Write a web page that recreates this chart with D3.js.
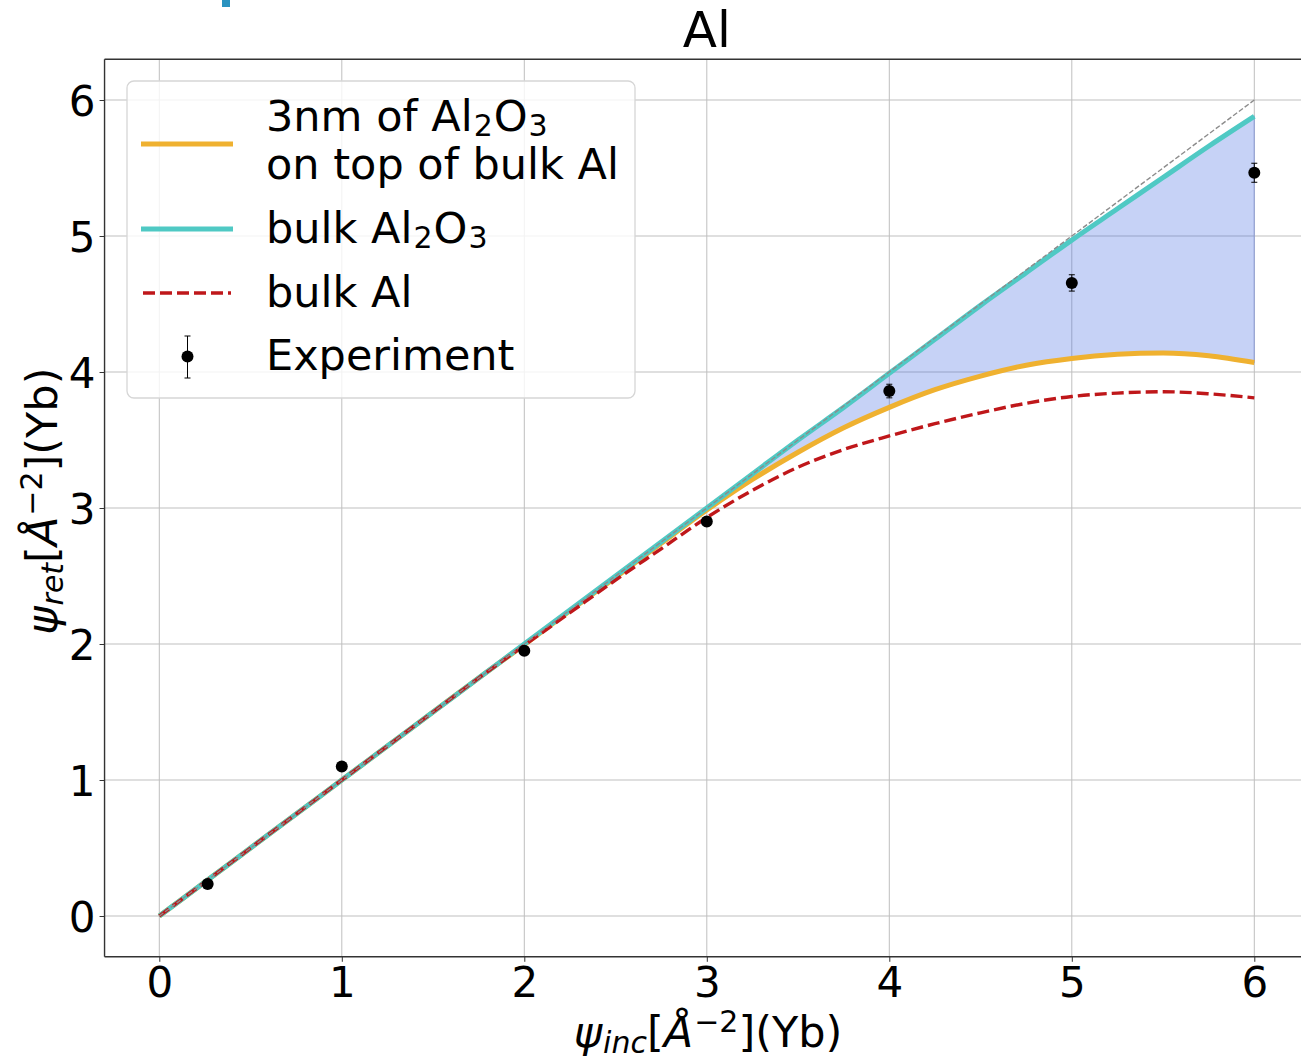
<!DOCTYPE html>
<html><head><meta charset="utf-8">
<script src="https://cdn.jsdelivr.net/npm/d3@7"></script>
<style>body{margin:0;background:#fff} text{font-family:"DejaVu Sans",sans-serif;fill:#000}</style>
</head><body><svg id="c" width="1301" height="1062"></svg>
<script>
// ---- data ----
const curveX = [0,0.25,0.5,0.75,1,1.25,1.5,1.75,2,2.25,2.5,2.75,3,3.25,3.5,3.75,4,4.25,4.5,4.75,5,5.25,5.5,5.75,6];
const bulkAl2O3 = [0,0.25,0.5,0.75,1,1.25,1.5,1.75,2,2.25,2.5,2.75,3,3.25,3.5,3.74,3.99,4.24,4.49,4.73,4.97,5.2,5.43,5.66,5.88];
const oxideOnAl = [0,0.25,0.5,0.75,1,1.25,1.5,1.75,1.995,2.245,2.49,2.74,2.985,3.21,3.41,3.59,3.74,3.87,3.97,4.05,4.10,4.13,4.14,4.12,4.07];
const bulkAl    = [0,0.25,0.5,0.75,1,1.25,1.5,1.75,1.99,2.23,2.47,2.70,2.93,3.13,3.30,3.43,3.53,3.62,3.70,3.77,3.82,3.845,3.855,3.84,3.81];
const refX = [0,6];
const refY = [0,6];
const expX = [0.265,1.0,2.0,3.0,4.0,5.0,6.0];
const expY = [0.236,1.10,1.95,2.90,3.86,4.655,5.465];
const expErr = [0.02,0.02,0.02,0.03,0.05,0.06,0.07];
const ticks = [0,1,2,3,4,5,6];
const tickLabels = ["0","1","2","3","4","5","6"];
const title = "Al";

// ---- layout ----
const svg = d3.select("#c");
const x = d3.scaleLinear().domain([-0.3,6.3]).range([104.55,1309.05]);
const y = d3.scaleLinear().domain([-0.3,6.3]).range([956.8,59.2]);
const FS = 42, LFS = 43, SUB = 30;

// artifact at top
svg.append("rect").attr("x",222).attr("y",0).attr("width",8).attr("height",7).attr("fill","#2a93c0");

// grid
const g = svg.append("g");
g.selectAll(".vg").data(ticks).join("line").attr("x1",d=>x(d)).attr("x2",d=>x(d))
  .attr("y1",y(-0.3)).attr("y2",y(6.3)).attr("stroke","#bfbfbf").attr("stroke-width",1);
g.selectAll(".hg").data(ticks).join("line").attr("y1",d=>y(d)).attr("y2",d=>y(d))
  .attr("x1",x(-0.3)).attr("x2",x(6.3)).attr("stroke","#bfbfbf").attr("stroke-width",1);

// fill between
const pts = curveX.map((d,i)=>({x:d,hi:bulkAl2O3[i],lo:oxideOnAl[i]}));
svg.append("path").datum(pts)
  .attr("d",d3.area().x(d=>x(d.x)).y0(d=>y(d.lo)).y1(d=>y(d.hi)).curve(d3.curveMonotoneX))
  .attr("fill","rgb(65,105,225)").attr("fill-opacity",0.3)
  .attr("stroke","rgb(65,105,225)").attr("stroke-opacity",0.3).attr("stroke-width",1.2);

const line = d3.line().x(d=>x(d[0])).y(d=>y(d[1])).curve(d3.curveMonotoneX);
const series = (ys)=>curveX.map((d,i)=>[d,ys[i]]);

svg.append("path").datum(series(oxideOnAl)).attr("d",line)
  .attr("fill","none").attr("stroke","#efb130").attr("stroke-width",5);
svg.append("path").datum(series(bulkAl2O3)).attr("d",line)
  .attr("fill","none").attr("stroke","#4fc9c4").attr("stroke-width",5);
svg.append("path").datum(series(bulkAl)).attr("d",line)
  .attr("fill","none").attr("stroke","#bf171a").attr("stroke-width",3.4).attr("stroke-dasharray","12,5");
svg.append("path").datum(refX.map((d,i)=>[d,refY[i]])).attr("d",d3.line().x(d=>x(d[0])).y(d=>y(d[1])))
  .attr("fill","none").attr("stroke","#8c8c8c").attr("stroke-width",1.4).attr("stroke-dasharray","5,2.2");

// experiment
const ex = svg.append("g");
expX.forEach((d,i)=>{
  const cx = x(d), e1 = y(expY[i]-expErr[i]), e2 = y(expY[i]+expErr[i]);
  ex.append("line").attr("x1",cx).attr("x2",cx).attr("y1",e1).attr("y2",e2).attr("stroke","#000").attr("stroke-width",1);
  [e1,e2].forEach(v=>ex.append("line").attr("x1",cx-3).attr("x2",cx+3).attr("y1",v).attr("y2",v).attr("stroke","#000").attr("stroke-width",1));
  ex.append("circle").attr("cx",cx).attr("cy",y(expY[i])).attr("r",6).attr("fill","#000");
});

// spines
const sp = svg.append("g").attr("stroke","#333").attr("stroke-width",1.4);
sp.append("line").attr("x1",x(-0.3)).attr("x2",x(-0.3)).attr("y1",y(-0.3)).attr("y2",y(6.3));
sp.append("line").attr("x1",x(-0.3)).attr("x2",x(6.3)).attr("y1",y(-0.3)).attr("y2",y(-0.3));
sp.append("line").attr("x1",x(-0.3)).attr("x2",x(6.3)).attr("y1",y(6.3)).attr("y2",y(6.3));

// axes
const xa = svg.append("g").attr("transform",`translate(0,${y(-0.3)})`)
  .call(d3.axisBottom(x).tickValues(ticks).tickFormat((d,i)=>tickLabels[i]).tickSize(5).tickSizeOuter(0));
xa.select(".domain").remove();
xa.selectAll("text").attr("y",40).attr("dy",0).style("font-size",FS+"px").style("font-family","DejaVu Sans");
xa.selectAll("line").attr("stroke","#333");
const ya = svg.append("g").attr("transform",`translate(${x(-0.3)},0)`)
  .call(d3.axisLeft(y).tickValues(ticks).tickFormat((d,i)=>tickLabels[i]).tickSize(5).tickSizeOuter(0));
ya.select(".domain").remove();
ya.selectAll("text").attr("x",-9).attr("dy","0.36em").style("font-size",FS+"px").style("font-family","DejaVu Sans");
ya.selectAll("line").attr("stroke","#333");

// title
svg.append("text").attr("x",706.8).attr("y",47).attr("text-anchor","middle").style("font-size","50px").text(title);

// axis labels
function mathLabel(sel, sub){
  sel.append("tspan").style("font-style","italic").text("ψ");
  sel.append("tspan").style("font-style","italic").style("font-size",SUB+"px").attr("dy",6).attr("dx",1).text(sub);
  sel.append("tspan").attr("dy",-6).text("[");
  sel.append("tspan").style("font-style","italic").text("Å");
  sel.append("tspan").style("font-size",SUB+"px").attr("dy",-15).attr("dx",1).text("−2");
  sel.append("tspan").attr("dy",15).text("](Yb)");
}
const xl = svg.append("text").attr("x",708).attr("y",1047).attr("text-anchor","middle").style("font-size",LFS+"px");
mathLabel(xl,"inc");
const yl = svg.append("text").attr("transform",`translate(57,${y(3.05)}) rotate(-90)`).attr("text-anchor","middle").style("font-size",LFS+"px");
mathLabel(yl,"ret");

// legend
const lg = svg.append("g");
lg.append("rect").attr("x",127).attr("y",81).attr("width",508).attr("height",317).attr("rx",7)
  .attr("fill","#fff").attr("fill-opacity",0.8).attr("stroke","#d6d6d6").attr("stroke-width",1.3);
lg.append("line").attr("x1",141).attr("x2",233).attr("y1",144).attr("y2",144).attr("stroke","#efb130").attr("stroke-width",5);
lg.append("line").attr("x1",141).attr("x2",233).attr("y1",229).attr("y2",229).attr("stroke","#4fc9c4").attr("stroke-width",5);
lg.append("line").attr("x1",143).attr("x2",231).attr("y1",293).attr("y2",293).attr("stroke","#bf171a").attr("stroke-width",3.4).attr("stroke-dasharray","12,5");
lg.append("line").attr("x1",187.5).attr("x2",187.5).attr("y1",336).attr("y2",378).attr("stroke","#000").attr("stroke-width",1);
[336,378].forEach(v=>lg.append("line").attr("x1",184.5).attr("x2",190.5).attr("y1",v).attr("y2",v).attr("stroke","#000").attr("stroke-width",1));
lg.append("circle").attr("cx",187.5).attr("cy",356.5).attr("r",6).attr("fill","#000");

function al2o3(t, pre){
  t.append("tspan").text(pre+"Al");
  t.append("tspan").style("font-size",SUB+"px").attr("dy",5).attr("dx",1).text("2");
  t.append("tspan").attr("dy",-5).attr("dx",1).text("O");
  t.append("tspan").style("font-size",SUB+"px").attr("dy",5).attr("dx",1).text("3");
}
const t1 = lg.append("text").attr("x",266).attr("y",131).style("font-size",LFS+"px"); al2o3(t1,"3nm of ");
lg.append("text").attr("x",266).attr("y",179).style("font-size",LFS+"px").text("on top of bulk Al");
const t2 = lg.append("text").attr("x",266).attr("y",243).style("font-size",LFS+"px"); al2o3(t2,"bulk ");
lg.append("text").attr("x",266).attr("y",307).style("font-size",LFS+"px").text("bulk Al");
lg.append("text").attr("x",266).attr("y",370).style("font-size",LFS+"px").text("Experiment");
</script></body></html>
